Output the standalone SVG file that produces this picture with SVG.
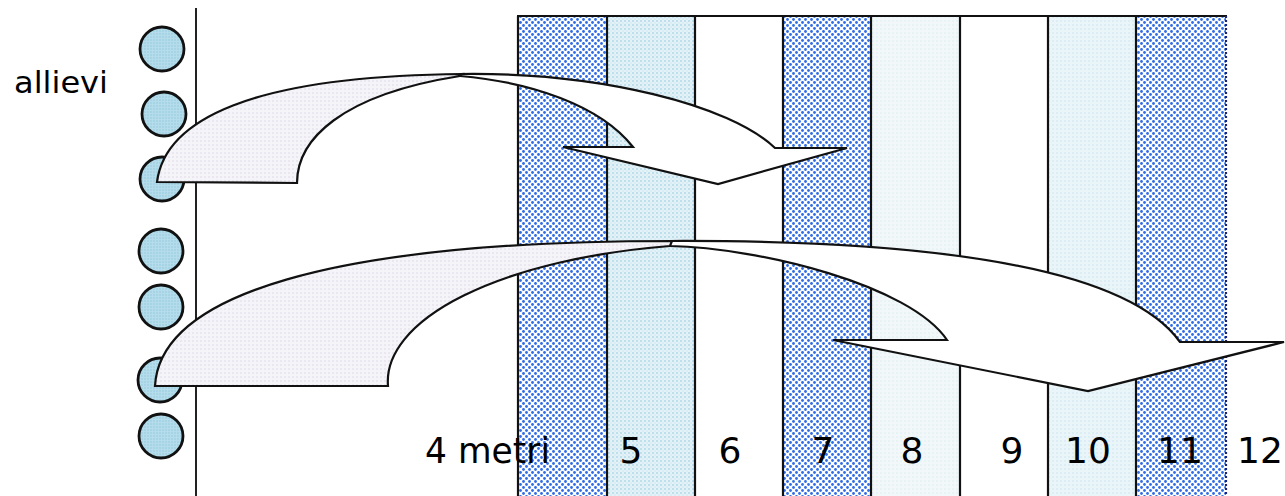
<svg xmlns="http://www.w3.org/2000/svg" width="1285" height="496" viewBox="0 0 1285 496">
  <defs>
    <pattern id="pDense" width="6" height="6" patternUnits="userSpaceOnUse">
      <rect width="6" height="6" fill="#ffffff"/>
      <circle cx="1.5" cy="1.5" r="1.4" fill="#2f6ce6"/>
      <circle cx="4.5" cy="4.5" r="1.4" fill="#2f6ce6"/>
    </pattern>
    <pattern id="pLight" width="4" height="4" patternUnits="userSpaceOnUse">
      <rect width="4" height="4" fill="#e4f2f7"/>
      <circle cx="1" cy="1" r="0.9" fill="#abd7e7"/>
      <circle cx="3" cy="3" r="0.7" fill="#c6e4ef"/>
    </pattern>
    <pattern id="pPale" width="4" height="4" patternUnits="userSpaceOnUse">
      <rect width="4" height="4" fill="#f2f8fa"/>
      <circle cx="1" cy="1" r="0.7" fill="#d8ebf1"/>
    </pattern>
    <pattern id="pPale2" width="4" height="4" patternUnits="userSpaceOnUse">
      <rect width="4" height="4" fill="#e9f5f8"/>
      <circle cx="1" cy="1" r="0.8" fill="#cde7ef"/>
    </pattern>
    <pattern id="pBall" width="3" height="3" patternUnits="userSpaceOnUse">
      <rect width="3" height="3" fill="#b4dcea"/>
      <circle cx="1" cy="1" r="0.7" fill="#8fc6dc"/>
    </pattern>
    <pattern id="pShade" width="4" height="4" patternUnits="userSpaceOnUse">
      <rect width="4" height="4" fill="#f5f4f8"/>
      <circle cx="1" cy="1" r="0.8" fill="#dcd8e6"/>
    </pattern>
  </defs>
  <style>
    .lbl { font-family: "DejaVu Sans", "Liberation Sans", sans-serif; fill: #000; }
    .ball { fill: url(#pBall); stroke: #111; stroke-width: 2.8; }
    .edge { stroke: #111; stroke-width: 2.2; fill: none; }
    .arrowW { fill: #ffffff; stroke: #111; stroke-width: 2.2; stroke-linejoin: miter; }
    .arrowS { fill: url(#pShade); stroke: #111; stroke-width: 2.2; stroke-linejoin: miter; }
  </style>

  <!-- pool lanes -->
  <g id="lanes">
    <rect x="518" y="16" width="89" height="480" fill="url(#pDense)"/>
    <rect x="607" y="16" width="88" height="480" fill="url(#pLight)"/>
    <rect x="695" y="16" width="88" height="480" fill="#ffffff"/>
    <rect x="783" y="16" width="88" height="480" fill="url(#pDense)"/>
    <rect x="871" y="16" width="89" height="480" fill="url(#pPale)"/>
    <rect x="960" y="16" width="88" height="480" fill="#ffffff"/>
    <rect x="1048" y="16" width="88" height="480" fill="url(#pPale2)"/>
    <rect x="1136" y="16" width="90" height="480" fill="url(#pDense)"/>
    <line class="edge" x1="517" y1="16" x2="1227" y2="16"/>
    <line class="edge" x1="518" y1="16" x2="518" y2="496"/>
    <line class="edge" x1="607" y1="16" x2="607" y2="496"/>
    <line class="edge" x1="695" y1="16" x2="695" y2="496"/>
    <line class="edge" x1="783" y1="16" x2="783" y2="496"/>
    <line class="edge" x1="871" y1="16" x2="871" y2="496"/>
    <line class="edge" x1="960" y1="16" x2="960" y2="496"/>
    <line class="edge" x1="1048" y1="16" x2="1048" y2="496"/>
    <line class="edge" x1="1136" y1="16" x2="1136" y2="496"/>
    <line x1="1226" y1="16" x2="1226" y2="496" stroke="#1a2470" stroke-width="2.2" stroke-dasharray="2 2"/>
  </g>

  <!-- start line -->
  <g id="startline">
    <line x1="196" y1="8" x2="196" y2="496" stroke="#222" stroke-width="2"/>
  </g>

  <!-- students -->
  <g id="students">
    <circle class="ball" cx="162" cy="49" r="22"/>
    <circle class="ball" cx="164" cy="114" r="22"/>
    <circle class="ball" cx="162" cy="179" r="22"/>
    <circle class="ball" cx="161" cy="251" r="22"/>
    <circle class="ball" cx="161" cy="307" r="22"/>
    <circle class="ball" cx="160" cy="380" r="22"/>
    <circle class="ball" cx="161" cy="436" r="22"/>
  </g>

  <g id="label-allievi">
    <text class="lbl" x="14" y="93" font-size="30" textLength="94" lengthAdjust="spacingAndGlyphs">allievi</text>
  </g>

  <!-- connectors: curved jump arrows -->
  <g id="connectors">
    <g id="arrow-upper">
      <path class="arrowW" d="M 460 74 C 600 72 730 105 775 148 L 847 148 L 718 184 L 563 147 L 633 147 C 600 105 530 82 460 76 Z"/>
      <path class="arrowS" d="M 157 182 C 165 120 250 76 462 74 L 460 76 C 340 95 297 140 297 183 Z"/>
    </g>
    <g id="arrow-lower">
      <path class="arrowW" d="M 670 241 C 920 240 1125 265 1180 342 L 1284 342 L 1088 391 L 833 340 L 947 340 C 910 285 760 248 670 246 Z"/>
      <path class="arrowS" d="M 155 386 C 160 295 330 241 672 241 L 670 246 A 350 138 0 0 0 388 386 Z"/>
    </g>
  </g>

  <!-- distance labels -->
  <g id="labels">
    <text class="lbl" x="425" y="463" font-size="36" textLength="125" lengthAdjust="spacingAndGlyphs">4 metri</text>
    <text class="lbl" x="631" y="463" font-size="36" text-anchor="middle">5</text>
    <text class="lbl" x="730" y="463" font-size="36" text-anchor="middle">6</text>
    <text class="lbl" x="823" y="463" font-size="36" text-anchor="middle">7</text>
    <text class="lbl" x="912" y="463" font-size="36" text-anchor="middle">8</text>
    <text class="lbl" x="1012" y="463" font-size="36" text-anchor="middle">9</text>
    <text class="lbl" x="1088" y="463" font-size="36" text-anchor="middle">10</text>
    <text class="lbl" x="1180" y="463" font-size="36" text-anchor="middle">11</text>
    <text class="lbl" x="1260" y="463" font-size="36" text-anchor="middle">12</text>
  </g>
</svg>
